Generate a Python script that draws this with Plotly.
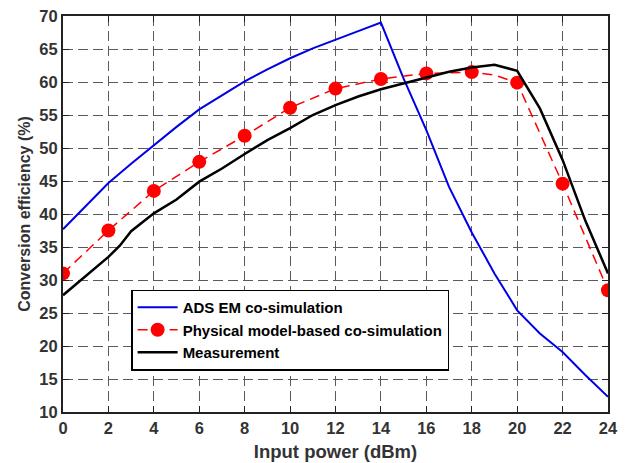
import plotly.graph_objects as go

# Input power (dBm)
x_ads = list(range(0, 25))
ads = [37.7, 41.2, 44.7, 47.6, 50.4, 53.2, 55.85, 58.0, 60.1, 61.9, 63.6, 65.1, 66.45,
       67.7, 69.0, 60.5, 52.7, 44.1, 37.2, 31.0, 25.4, 21.9, 19.1, 15.6, 12.3]

x_phys_line = [0, 2, 4, 6, 8, 10, 12, 14, 16, 18, 19, 20, 22, 24]
phys_line = [31.0, 37.5, 43.5, 47.9, 51.85, 56.1, 59.0, 60.45, 61.3, 61.5, 61.05, 59.9, 44.6, 28.45]
x_phys = [0, 2, 4, 6, 8, 10, 12, 14, 16, 18, 20, 22, 24]
phys = [31.0, 37.5, 43.5, 47.9, 51.85, 56.1, 59.0, 60.45, 61.3, 61.5, 59.9, 44.6, 28.45]

x_meas = [0, 1, 2, 2.5, 3, 4, 5, 6, 7, 8, 9, 10, 11, 12, 13, 14, 15, 16, 17, 18, 19, 20, 21, 22, 23, 24]
meas = [27.7, 30.6, 33.5, 35.2, 37.4, 40.1, 42.2, 44.9, 46.9, 49.1, 51.2, 53.0, 55.0, 56.5,
        57.8, 58.9, 59.8, 60.7, 61.55, 62.2, 62.6, 61.7, 56.0, 48.2, 39.0, 31.0]

x_ticks = list(range(0, 25, 2))
y_ticks = list(range(10, 71, 5))

FONT = "Liberation Sans, Arial, sans-serif"
RED = "#ff0000"

fig = go.Figure()
fig.add_trace(go.Scatter(x=x_ads, y=ads, mode="lines", name="ADS EM co-simulation",
                         line=dict(color="#0000e6", width=2)))
fig.add_trace(go.Scatter(x=x_phys_line, y=phys_line, mode="lines", showlegend=False,
                         line=dict(color=RED, width=1.5, dash="10px,6px")))
fig.add_trace(go.Scatter(x=x_phys, y=phys, mode="markers", showlegend=False,
                         marker=dict(color=RED, size=14, symbol="circle")))
fig.add_trace(go.Scatter(x=[None], y=[None], mode="lines+markers",
                         name="Physical model-based co-simulation",
                         line=dict(color=RED, width=1.5, dash="10px,6px"),
                         marker=dict(color=RED, size=14)))
fig.add_trace(go.Scatter(x=x_meas, y=meas, mode="lines", name="Measurement",
                         line=dict(color="black", width=2.5)))

axis_common = dict(
    showline=True, linecolor="#222", linewidth=2, mirror="ticks",
    ticks="inside", ticklen=6, tickwidth=1.2, tickcolor="#222",
    showgrid=True, gridcolor="#5a5a5a", gridwidth=1.2, griddash="10px,5px",
    zeroline=False, automargin=False,
    tickfont=dict(family=FONT, size=16.5, color="#333", weight="bold"),
)

fig.update_xaxes(range=[0, 24], tickvals=x_ticks,
                 title=dict(text="Input power (dBm)", standoff=9,
                            font=dict(family=FONT, size=18.5, color="#333", weight="bold")),
                 **axis_common)
fig.update_yaxes(range=[10, 70], tickvals=y_ticks,
                 title=dict(text="Conversion efficiency (%)", standoff=5,
                            font=dict(family=FONT, size=16, color="#333", weight="bold")),
                 **axis_common)

fig.update_layout(
    width=631, height=463,
    margin=dict(l=63, r=23, t=16, b=51),
    paper_bgcolor="white", plot_bgcolor="white",
    legend=dict(x=0.125, y=0.207, xanchor="left", yanchor="middle",
                bgcolor="white", bordercolor="black", borderwidth=1.5,
                font=dict(family=FONT, size=15, color="black", weight="bold"),
                tracegroupgap=0, itemwidth=40),
)

fig.write_html("out.html")
